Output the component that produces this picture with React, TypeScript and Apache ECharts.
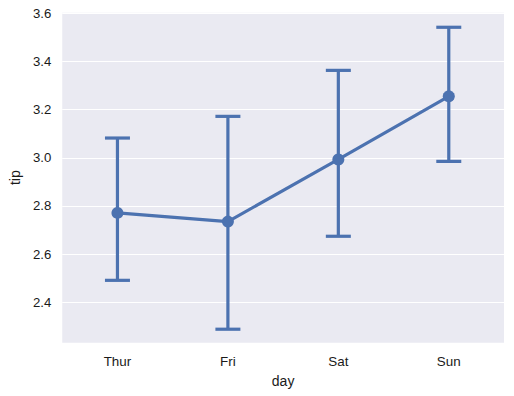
import React, { useEffect, useRef } from "react";
import * as echarts from "echarts";

const days = ["Thur", "Fri", "Sat", "Sun"];
const tipMeans = [2.771, 2.735, 2.993, 3.255];
const ciLow = [2.491, 2.288, 2.674, 2.985];
const ciHigh = [3.082, 3.172, 3.363, 3.542];
const yTicks = [2.4, 2.6, 2.8, 3.0, 3.2, 3.4, 3.6];

const BLUE = "#4C72B0";
const FONT = "'Liberation Sans', Arial, sans-serif";

export default function App() {
  const ref = useRef<HTMLDivElement>(null);
  useEffect(() => {
    document.body.style.margin = "0";
    const chart = echarts.init(ref.current!, null, { renderer: "svg" });
    const errData = days.map((_, i) => [i, ciLow[i], ciHigh[i]]);
    chart.setOption({
      animation: false,
      textStyle: { fontFamily: FONT },
      grid: {
        left: 60,
        right: 10,
        top: 12.7,
        bottom: 53.3,
        show: true,
        backgroundColor: "#EAEAF2",
        borderWidth: 0,
      },
      xAxis: {
        type: "category",
        data: days,
        boundaryGap: true,
        name: "day",
        nameLocation: "middle",
        nameGap: 31,
        nameTextStyle: { fontSize: 14, color: "#1a1a1a", fontFamily: FONT },
        axisLine: { show: false },
        axisTick: { show: false },
        axisLabel: { fontSize: 13.4, color: "#1a1a1a", margin: 12, fontFamily: FONT },
        splitLine: { show: false },
      },
      yAxis: {
        type: "value",
        min: 2.232,
        max: 3.6025,
        name: "tip",
        nameLocation: "middle",
        nameGap: 38,
        nameTextStyle: { fontSize: 14, color: "#1a1a1a", fontFamily: FONT },
        axisLine: { show: false },
        axisTick: { show: false, customValues: yTicks },
        axisLabel: {
          customValues: yTicks,
          fontSize: 13.2,
          color: "#1a1a1a",
          margin: 11,
          fontFamily: FONT,
          formatter: (v: number) => v.toFixed(1),
        },
        splitLine: { show: true, lineStyle: { color: "#FFFFFF", width: 1.2 } },
      },
      series: [
        {
          type: "custom",
          data: errData,
          z: 3,
          renderItem: (params: any, api: any) => {
            const i = api.value(0);
            const lo = api.coord([i, api.value(1)]);
            const hi = api.coord([i, api.value(2)]);
            const hw = 12.5;
            const style = { stroke: BLUE, lineWidth: 3.2, lineCap: "butt" };
            return {
              type: "group",
              children: [
                { type: "line", shape: { x1: lo[0], y1: lo[1], x2: hi[0], y2: hi[1] }, style },
                { type: "line", shape: { x1: hi[0] - hw, y1: hi[1], x2: hi[0] + hw, y2: hi[1] }, style },
                { type: "line", shape: { x1: lo[0] - hw, y1: lo[1], x2: lo[0] + hw, y2: lo[1] }, style },
              ],
            };
          },
        },
        {
          type: "line",
          data: tipMeans,
          z: 4,
          symbol: "circle",
          symbolSize: 12,
          lineStyle: { color: BLUE, width: 3.2 },
          itemStyle: { color: BLUE },
        },
      ],
    });
    return () => chart.dispose();
  }, []);
  return (
    <div
      ref={ref}
      style={{ position: "fixed", left: 0, top: 0, width: 514, height: 396, background: "#fff" }}
    />
  );
}
